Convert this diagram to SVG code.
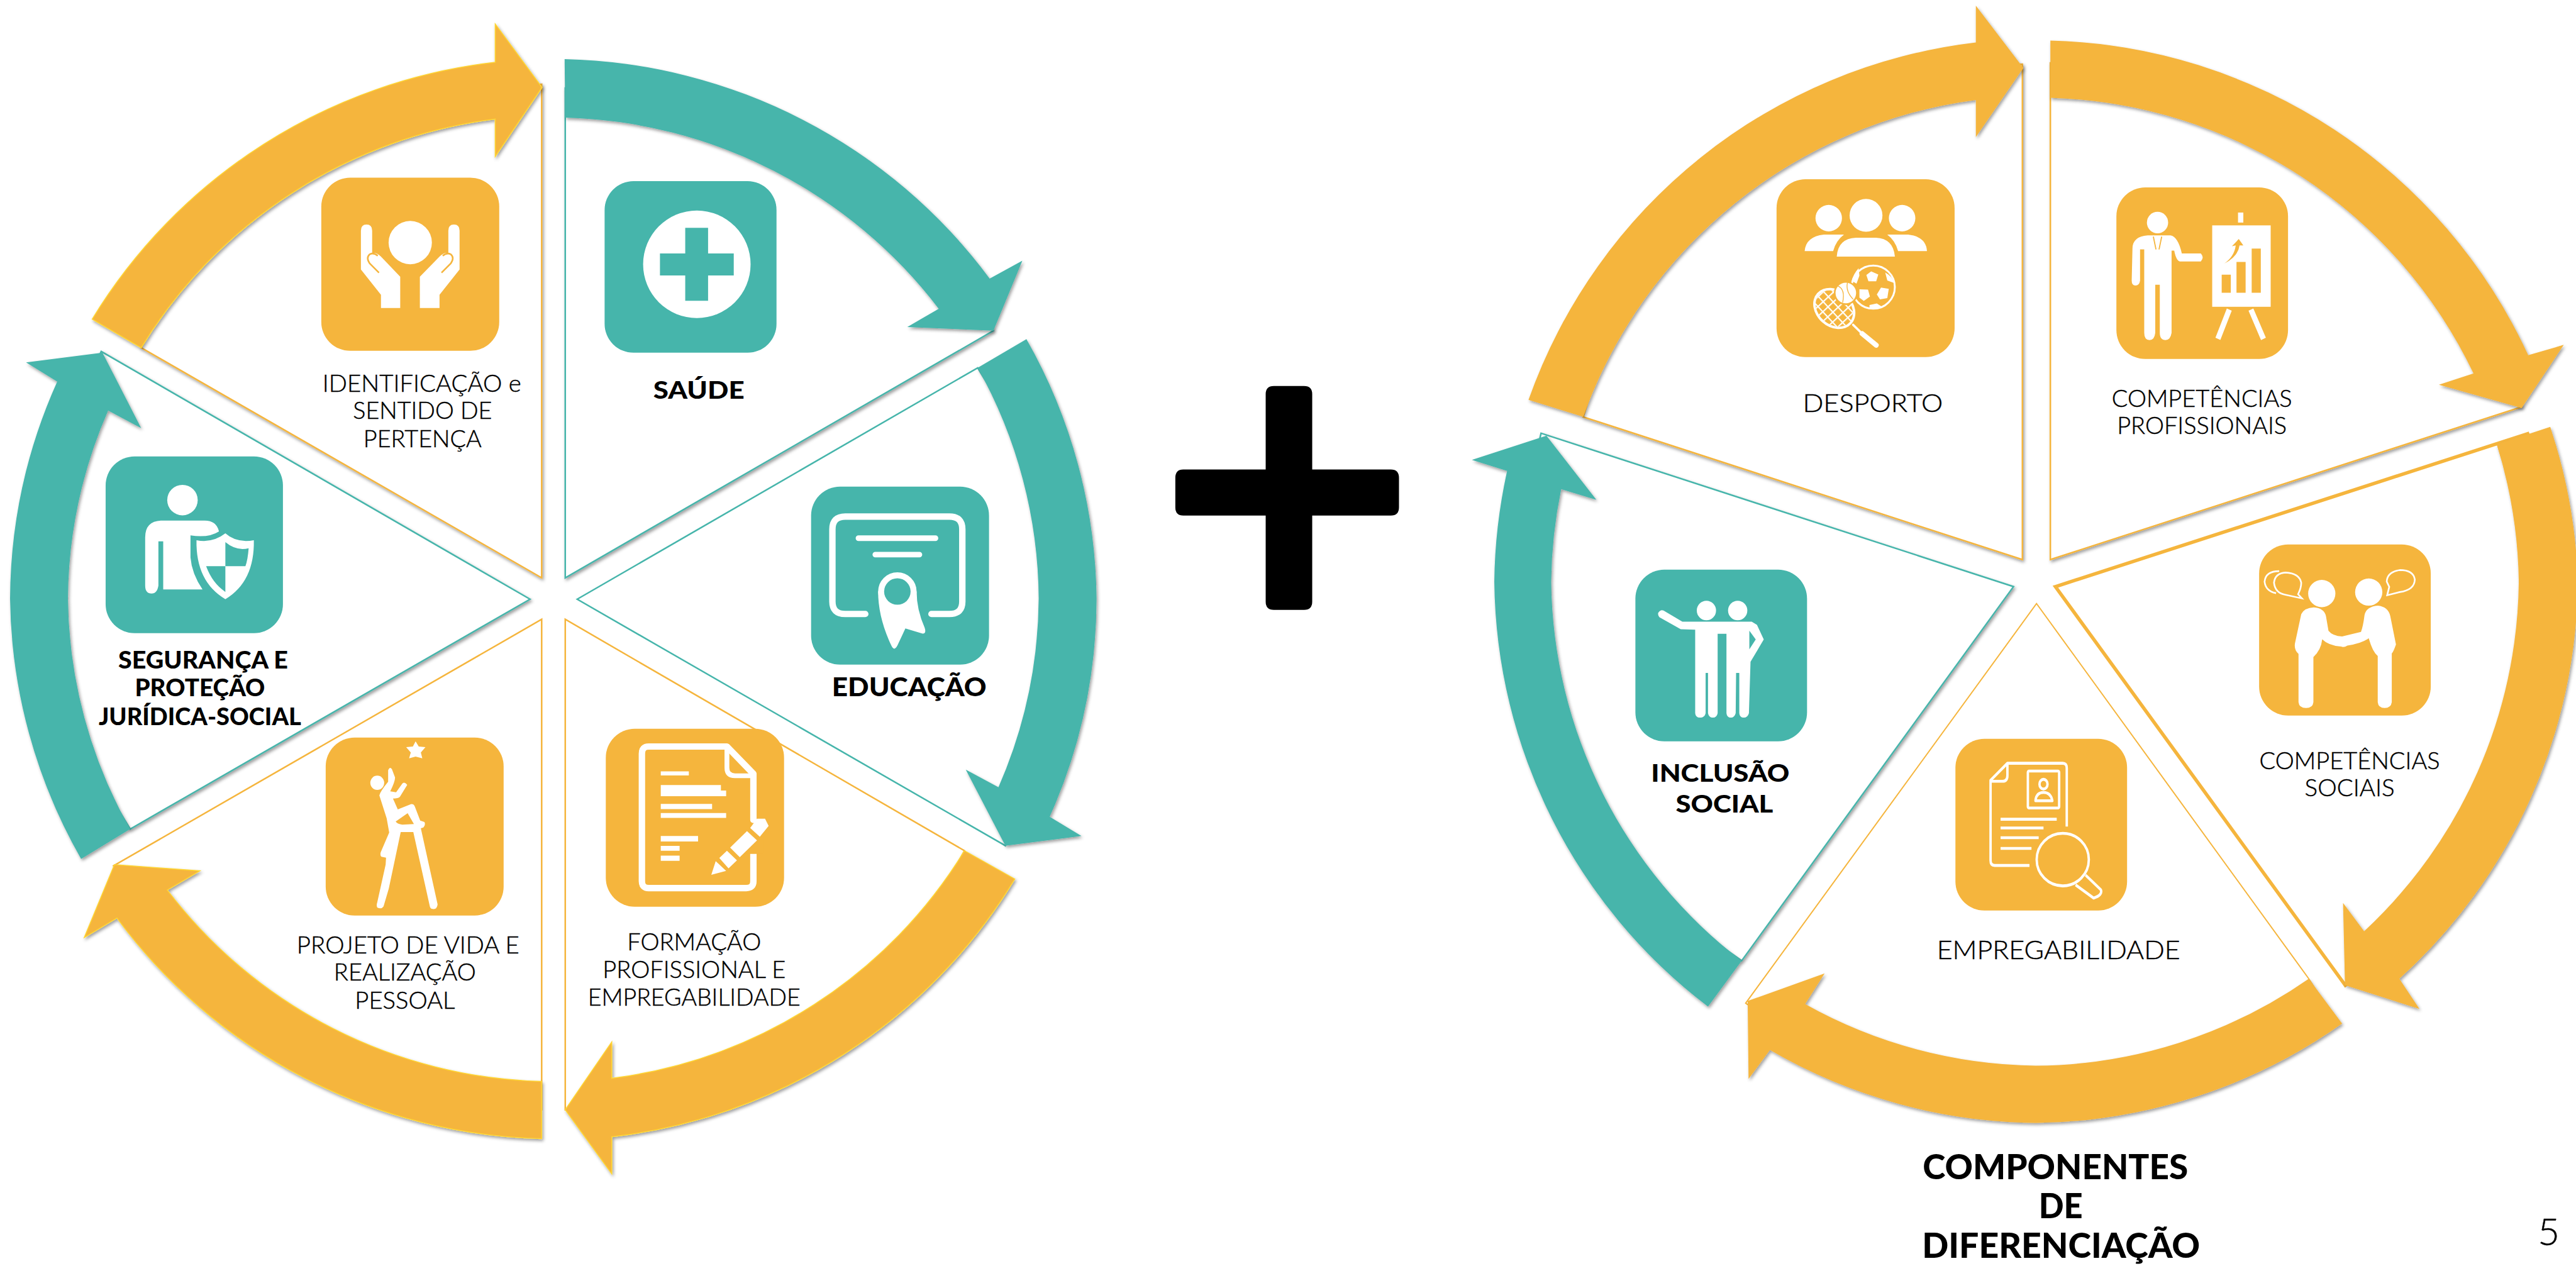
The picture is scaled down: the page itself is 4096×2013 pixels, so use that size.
<svg xmlns="http://www.w3.org/2000/svg" width="4096" height="2013" viewBox="0 0 4096 2013">
<style>
.bg{fill:#fff}
.or{fill:#F5B53D}
.te{fill:#46B5AB}
.wo{fill:#fff;stroke:#F5B53D;stroke-width:2.5}
.wt{fill:#fff;stroke:#46B5AB;stroke-width:2.5}
.ao{fill:#F5B53D;stroke:#FFD632;stroke-width:1.5}
.at{fill:#46B5AB}
.w{fill:#fff}
.ws{fill:none;stroke:#fff;stroke-linecap:round;stroke-linejoin:round}
.l{font-family:"Lato","Liberation Sans",sans-serif;font-weight:300;font-size:37px;fill:#000;stroke:#000;stroke-width:.5;text-anchor:middle}
.b{font-family:"Lato","Liberation Sans",sans-serif;font-weight:900;font-size:38px;fill:#000;text-anchor:middle}
</style>
<defs>
<filter id="sh" x="-5%" y="-5%" width="110%" height="110%"><feDropShadow dx="2" dy="3" stdDeviation="2.5" flood-color="#000" flood-opacity=".38"/></filter>
<pattern id="grid" width="34" height="34" patternUnits="userSpaceOnUse" patternTransform="rotate(5)"><path d="M0 0H34M0 0V34" stroke="#fff" stroke-width="13" fill="none"/></pattern>
</defs>
<rect class="bg" width="4096" height="2013"/>
<g transform="scale(0.99976)">

<g id="node-saude">
<path class="wt" filter="url(#sh)" d="M899 919V140A810 810 0 0 1 1580 526Z"/>
<rect class="te" x="961.6" y="288" width="273.4" height="273" rx="46"/>
<g transform="translate(850,0) scale(.6378)">
<circle class="w" cx="405" cy="659" r="134"/>
<path class="te" d="M376 568H433V632H497V687H433V750H376V687H313V632H376Z"/>
</g>
<text class="b" x="1111.5" y="634.5" textLength="145" lengthAdjust="spacingAndGlyphs">SAÚDE</text>
</g>

<g id="node-educacao">
<path class="wt" d="M918 953L1555 585A790 790 0 0 1 1599 1345Z"/>
<rect class="te" x="1290" y="774" width="283" height="283" rx="46"/>
<g transform="translate(850,0) scale(.6378)">
<path class="ws" stroke-width="16" d="M825 1531H775Q743 1531 743 1500V1320Q743 1288 775 1288H1035Q1067 1288 1067 1320V1500Q1067 1531 1035 1531H990"/>
<path class="ws" stroke-width="14" d="M808 1342H1000M850 1383H960"/>
<path class="w" d="M857 1475Q857 1540 890 1610Q897 1625 905 1610L925 1567L968 1580Q978 1580 973 1565Q953 1520 953 1475Z"/>
<circle class="w" cx="905" cy="1475" r="48"/>
<circle class="te" cx="905" cy="1475" r="33"/>
</g>
<text class="b" x="1446" y="1107.5" style="font-size:41px" textLength="246" lengthAdjust="spacingAndGlyphs">EDUCAÇÃO</text>
</g>

<g id="node-formacao">
<path class="wo" d="M899 985V1765A790 790 0 0 0 1534 1353Z"/>
<rect class="or" x="963.5" y="1159" width="283.5" height="283" rx="46"/>
<g transform="translate(850,950) scale(.6378)">
<path class="ws" stroke-width="16" d="M546 630V708Q546 725 528 725H285Q268 725 268 708V390Q268 372 285 372H480L546 440V555"/>
<path class="ws" stroke-width="12" d="M480 372V425Q480 445 500 445H546"/>
<path class="w" d="M315 434h70v10h-70zM315 468h150v14h13v14h-163zM315 515h128v13h-128zM315 538h163v12h-163zM315 595h93v14h-93zM315 620h47v12h-47zM315 644h47v13h-47z"/>
<path class="or" d="M520 590h50v50h-50z"/>
<path class="w" d="M555 552H575L584 570L562 597L538 575ZM530 583L555 606L512 648L488 624ZM480 632L505 656L484 676L461 650ZM452 658L478 682L441 692Z"/>
</g>
<text class="l" x="1104" y="1511" textLength="213" lengthAdjust="spacingAndGlyphs">FORMAÇÃO</text>
<text class="l" x="1104" y="1555" textLength="291" lengthAdjust="spacingAndGlyphs">PROFISSIONAL E</text>
<text class="l" x="1104" y="1599" textLength="338" lengthAdjust="spacingAndGlyphs">EMPREGABILIDADE</text>
</g>

<g id="node-projeto">
<path class="wo" d="M861.5 985V1765A790 790 0 0 1 180.5 1377Z"/>
<rect class="or" x="518" y="1173" width="283" height="283" rx="46"/>
<g transform="translate(560,1180) scale(.3333)">
<path class="w" d="M303 -3L318 22L350 25L328 50L335 78L303 70L272 78L280 50L258 25L290 22Z"/>
<ellipse class="w" cx="120" cy="195" rx="33" ry="34"/>
<path class="w" fill-rule="evenodd" d="M130 255Q135 235 172 190L172 135Q180 115 190 130L205 170Q205 190 182 236L210 240L240 198Q252 188 263 205L228 262Q220 270 195 270L218 322L280 297Q295 295 300 310L325 375L345 382Q352 395 340 408L328 412L408 775Q405 800 385 797Q372 797 370 780L292 430H232L175 700L150 785Q140 800 120 790Q115 780 120 765L160 585L162 552L140 548Q132 540 137 525L177 432L165 365ZM208 380L265 340L295 392L240 395Q215 392 208 380Z"/>
</g>
<text class="l" x="649" y="1516" textLength="354" lengthAdjust="spacingAndGlyphs">PROJETO DE VIDA E</text>
<text class="l" x="644" y="1559" textLength="226" lengthAdjust="spacingAndGlyphs">REALIZAÇÃO</text>
<text class="l" x="644" y="1604" textLength="159" lengthAdjust="spacingAndGlyphs">PESSOAL</text>
</g>

<g id="node-seguranca">
<path class="wt" filter="url(#sh)" d="M843 953L161 559A790 790 0 0 0 207 1318.6Z"/>
<rect class="te" x="168" y="726" width="282" height="281" rx="46"/>
<g transform="scale(.6378)">
<circle class="w" cx="455" cy="1247" r="38"/>
<path class="w" d="M362 1340Q362 1298 405 1298H510Q540 1298 546 1325Q520 1342 475 1335V1390Q478 1430 505 1470H407V1350H395V1460Q392 1480 378 1480Q362 1480 362 1460Z"/>
<path class="w" d="M562 1330Q590 1355 633 1347Q635 1450 562 1494Q488 1450 490 1347Q530 1355 562 1330Z"/>
<path class="te" d="M562 1352Q590 1375 620 1367Q618 1395 612 1412H562ZM514 1412H562V1476Q530 1455 514 1412Z"/>
</g>
<text class="b" x="323" y="1063" textLength="270" lengthAdjust="spacingAndGlyphs">SEGURANÇA E</text>
<text class="b" x="318" y="1107.5" textLength="207" lengthAdjust="spacingAndGlyphs">PROTEÇÃO</text>
<text class="b" x="318" y="1153" textLength="322" lengthAdjust="spacingAndGlyphs">JURÍDICA-SOCIAL</text>
</g>

<g id="node-identificacao">
<path class="wo" filter="url(#sh)" d="M861.5 919L224.5 553A790 790 0 0 1 861.5 134Z"/>
<rect class="or" x="511" y="282.5" width="283" height="275.5" rx="46"/>
<g transform="scale(.6378)">
<circle class="w" cx="1023" cy="605" r="54"/>
<path class="w" d="M900 575Q900 560 914 560Q928 560 928 575V632Q938 628 950 640L998 690V768H950V735L900 672Z"/>
<path d="M945 680L922 657Q912 643 922 634Q932 629 942 638" fill="none" stroke="#F5B53D" stroke-width="4"/>
<path class="w" d="M1146 575Q1146 560 1132 560Q1118 560 1118 575V632Q1108 628 1096 640L1047 690V768H1096V735L1146 672Z"/>
<path d="M1101 680L1124 657Q1134 643 1124 634Q1114 629 1104 638" fill="none" stroke="#F5B53D" stroke-width="4"/>
</g>
<text class="l" x="671" y="623" textLength="316" lengthAdjust="spacingAndGlyphs">IDENTIFICAÇÃO e</text>
<text class="l" x="672" y="666.5" textLength="221" lengthAdjust="spacingAndGlyphs">SENTIDO DE</text>
<text class="l" x="672" y="711" textLength="188" lengthAdjust="spacingAndGlyphs">PERTENÇA</text>
</g>

<g id="plus">
<path d="M2026 614H2074Q2087 614 2087 627V746.7H2212Q2225 746.7 2225 760V807Q2225 820 2212 820H2087V957Q2087 970 2074 970H2026Q2013 970 2013 957V820H1882Q1869.3 820 1869.3 807V760Q1869.3 746.7 1882 746.7H2013V627Q2013 614 2026 614Z" fill="#000"/>
</g>

<g id="node-desporto">
<path class="wo" filter="url(#sh)" d="M3216.5 890L2518 663A790 790 0 0 1 3216.5 102Z"/>
<rect class="or" x="2825.5" y="285" width="283.2" height="283" rx="46"/>
<g transform="translate(2330,0) scale(.6378)">
<circle class="w" cx="907" cy="544" r="33"/><circle class="w" cx="1000" cy="537" r="41"/><circle class="w" cx="1090" cy="544" r="33"/>
<path class="w" d="M847 626Q850 590 895 585H945Q925 600 918 626ZM927 640Q930 595 975 593H1025Q1068 595 1072 640ZM1152 626Q1150 590 1105 585H1053Q1073 600 1080 626Z"/>
</g>
<g transform="translate(2870,400) scale(.3333)">
<circle cx="328" cy="170" r="103" fill="none" stroke="#fff" stroke-width="9"/>
<path class="w" d="M318 95L352 110L342 142H305L295 112ZM262 180L303 182L312 215L283 236L262 220ZM365 172L402 178L395 222L360 228L345 205ZM258 80Q235 105 225 140L248 153L262 115ZM385 100Q420 120 428 150L395 138ZM310 255L345 248L372 265Q340 280 310 270Z"/>
<ellipse class="w" cx="142" cy="272" rx="110" ry="88" transform="rotate(42 142 272)"/>
<ellipse class="or" cx="142" cy="272" rx="98" ry="76" transform="rotate(42 142 272)"/>
<g transform="rotate(42 142 272)"><ellipse cx="142" cy="272" rx="98" ry="76" fill="url(#grid)"/></g>
<path class="ws" stroke-width="11" d="M232 350L275 392"/>
<path d="M275 392L342 447" stroke="#fff" stroke-width="24" stroke-linecap="round" fill="none"/>
<circle class="w" cx="197" cy="198" r="53" stroke="#F5B53D" stroke-width="8"/>
<path d="M160 165Q195 180 182 243M205 148Q195 190 232 228" fill="none" stroke="#F5B53D" stroke-width="4"/>
</g>
<text class="l" x="2978.6" y="655.6" style="font-size:40px" textLength="223" lengthAdjust="spacingAndGlyphs">DESPORTO</text>
</g>

<g id="node-comp-prof">
<path class="wo" filter="url(#sh)" d="M3261 890V100A800 800 0 0 1 4010.5 647Z"/>
<rect class="or" x="3366" y="298" width="273" height="273" rx="46"/>
<g transform="translate(3150,0) scale(.6039,.6378)">
<ellipse class="w" cx="466" cy="555" rx="28" ry="27"/>
<path class="w" d="M400 620Q400 590 440 587H500Q520 590 530 632H580Q590 642 580 652H525Q515 650 510 625H503V830Q500 848 487 848Q472 848 472 830V710H460V830Q458 848 445 848Q431 848 431 830V622H420V700Q418 712 408 712Q398 712 398 700Z"/>
<path d="M455 590L462 622M477 590L470 622" stroke="#F5B53D" stroke-width="3" fill="none"/>
<rect class="w" x="610" y="562" width="154" height="203"/>
<rect class="w" x="678" y="530" width="14" height="25"/>
<path d="M655 772L625 845M712 772L745 845" stroke="#fff" stroke-width="14" fill="none"/>
<path class="or" d="M635 685h24v45h-24zM674 653h24v77h-24zM714 620h24v110h-24z"/>
<path class="or" d="M642 657Q668 640 672 612L662 614L680 596L692 612L682 612Q678 640 642 657Z"/>
</g>
<text class="l" x="3502" y="647" textLength="287" lengthAdjust="spacingAndGlyphs">COMPETÊNCIAS</text>
<text class="l" x="3502" y="690" textLength="270" lengthAdjust="spacingAndGlyphs">PROFISSIONAIS</text>
</g>

<g id="node-comp-soc">
<path class="wo" style="stroke-width:5.5" d="M3269 933L4022.6 689L3975 710A780 780 0 0 1 3730 1567Z"/>
<rect class="or" x="3593" y="866" width="273" height="272" rx="46"/>
<g transform="translate(3600,880) scale(.3333)">
<circle class="w" cx="278" cy="192" r="65"/><circle class="w" cx="502" cy="185" r="65"/>
<path class="w" d="M180 290Q195 260 240 258Q290 262 298 300L310 370Q330 395 375 397L465 375Q475 350 482 295Q490 255 545 250Q595 255 605 300L632 435Q620 470 612 478V710Q608 738 578 738Q548 738 545 710V490Q520 470 502 405Q470 430 400 440Q385 450 370 445Q310 440 280 410Q275 460 238 495V710Q235 738 203 738Q170 738 167 710V480Q145 460 150 430Z"/>
<g fill="none" stroke="#fff" stroke-width="8">
<path d="M75 85Q10 85 5 135Q10 180 60 190"/>
<path d="M105 92Q55 95 50 140Q55 190 105 198L183 215L165 195Q180 165 180 140Q170 95 105 92Z"/>
<path d="M650 80Q590 90 588 135L600 160L590 200L650 185Q720 175 722 125Q715 80 650 80Z"/>
</g>
</g>
<text class="l" x="3737" y="1223" textLength="287" lengthAdjust="spacingAndGlyphs">COMPETÊNCIAS</text>
<text class="l" x="3737" y="1266.5" textLength="143" lengthAdjust="spacingAndGlyphs">SOCIAIS</text>
</g>

<g id="node-empregabilidade">
<path class="wo" d="M3239 960L3672 1556.6L3700 1600A810 810 0 0 1 2776.4 1595.5Z" style="stroke-width:2"/>
<rect class="or" x="3110" y="1175" width="273" height="273" rx="46"/>
<g transform="translate(3097,800) scale(.6378,.7737)">
<g fill="none" stroke="#fff" stroke-width="6" stroke-linejoin="round">
<path d="M298 665V545Q298 535 288 535H150L108 570V735Q108 745 118 745H205"/>
<path d="M150 535V560Q150 572 138 572H108"/>
<rect x="201" y="551" width="78" height="76" rx="3"/>
<circle cx="240" cy="578" r="10"/>
<path d="M220 612Q222 595 240 595Q258 595 262 612Z"/>
<path d="M133 650H273M133 668H240M133 688H228M133 710H210"/>
<ellipse cx="288" cy="733" rx="65" ry="54"/>
<path d="M345 765L383 795Q388 806 365 812L320 785"/>
</g>
</g>
<text class="l" x="3274" y="1525" style="font-size:42px" textLength="387" lengthAdjust="spacingAndGlyphs">EMPREGABILIDADE</text>
</g>

<g id="node-inclusao">
<path class="wt" filter="url(#sh)" d="M2451 689L3202.4 933L2770 1528A790 790 0 0 1 2451 689Z"/>
<rect class="te" x="2601" y="906" width="273" height="273" rx="46"/>
<g transform="translate(2330,900) scale(.6378,.7097)">
<ellipse class="w" cx="602" cy="100" rx="24" ry="22"/><ellipse class="w" cx="680" cy="100" rx="24" ry="22"/>
<path class="w" d="M482 105Q488 97 495 100L542 125H715L728 132L745 165L712 215L708 330Q705 340 695 340Q685 340 684 330V240H676L675 330Q672 340 663 340Q653 340 652 330V152H630V330Q628 340 618 340Q608 340 606 330V240H600V330Q598 340 586 340Q575 340 574 330V143L538 142L485 115Q480 110 482 105Z"/>
<path class="te" d="M709 145L725 165L709 187Z"/>
</g>
<text class="b" x="2736" y="1243" textLength="220" lengthAdjust="spacingAndGlyphs">INCLUSÃO</text>
<text class="b" x="2742.6" y="1292.5" textLength="155" lengthAdjust="spacingAndGlyphs">SOCIAL</text>
</g>

<g id="title">
<text class="b" x="3269" y="1875" style="font-size:56px" textLength="422" lengthAdjust="spacingAndGlyphs">COMPONENTES</text>
<text class="b" x="3277.5" y="1937" style="font-size:56px" textLength="70" lengthAdjust="spacingAndGlyphs">DE</text>
<text class="b" x="3278" y="2000.6" style="font-size:56px" textLength="442" lengthAdjust="spacingAndGlyphs">DIFERENCIAÇÃO</text>
</g>
<text id="page" class="l" x="4053.6" y="1980" style="font-size:60px">5</text>

<g id="connectors" filter="url(#sh)">
<path class="at" d="M898 94A864 858 0 0 1 1574 443L1626 414.5L1580 526L1443 520L1493 491A771 766 0 0 0 899 187Z"/>
<path class="at" d="M1632.5 539.5A864 858 0 0 1 1744 952A864 858 0 0 1 1669.5 1299L1720 1329.5L1599 1345L1536 1224L1588 1252A771 766 0 0 0 1652 952A771 766 0 0 0 1555 585Z"/>
<path class="ao" d="M1614 1398A864 858 0 0 1 973 1808V1867L899 1765L973 1657V1715A771 766 0 0 0 1534 1353Z"/>
<path class="ao" d="M861.5 1811A864 858 0 0 1 186 1460L134 1491L182 1375L318 1385L266 1415.5A771 766 0 0 0 861.5 1720Z"/>
<path class="at" d="M129 1366A864 858 0 0 1 16 952A864 858 0 0 1 91 607L41.5 576.5L163 561L224.5 681L172 653A771 766 0 0 0 108 952A771 766 0 0 0 207 1318.6Z"/>
<path class="ao" d="M146.7 507.6A864 858 0 0 1 787.6 99V38L862 139L787.6 249V189.4A771 766 0 0 0 224.5 553Z"/>
<path class="or" d="M2431 636A861 861 0 0 1 3142.5 67.6V9L3218 108L3142.5 218V159A770 770 0 0 0 2518 663Z"/>
<path class="or" d="M3261 64.4A861 861 0 0 1 4021 565L4077.5 548.5L4010.5 649L3879 612L3934 594A770 770 0 0 0 3261 155.6Z"/>
<path class="or" d="M4056 679A861 861 0 0 1 4100 925A861 861 0 0 1 3816 1556.6L3848 1604.6L3729.6 1567L3726.5 1436L3760 1481A770 770 0 0 0 4006 925A770 770 0 0 0 3971 707Z"/>
<path class="or" d="M3725 1628A861 861 0 0 1 3238 1786A861 861 0 0 1 2815 1670L2781 1716L2779.6 1592L2902 1548L2871 1597A770 770 0 0 0 3238 1695A770 770 0 0 0 3672 1556.6Z"/>
<path class="at" d="M2716.5 1601A861 861 0 0 1 2376.6 925A861 861 0 0 1 2397 749L2341 731.5L2459.5 693L2539 795L2483 778A770 770 0 0 0 2467 925A770 770 0 0 0 2770 1528Z"/>
</g>
</g>
</svg>
